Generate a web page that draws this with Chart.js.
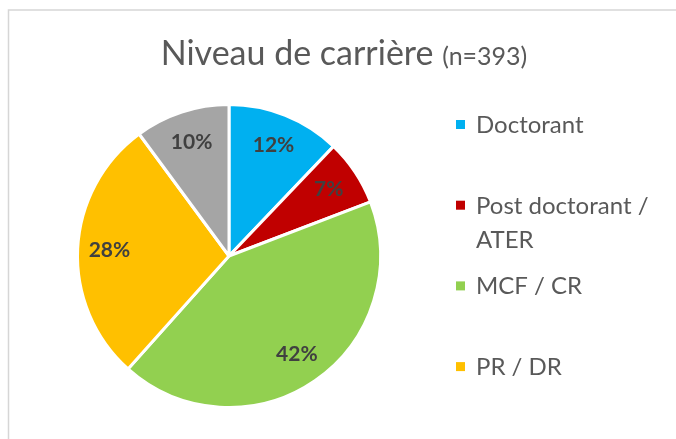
<!DOCTYPE html>
<html>
<head>
<meta charset="utf-8">
<script src="https://cdn.jsdelivr.net/npm/chart.js@4/dist/chart.umd.min.js"></script>
<style>
  html, body { margin: 0; padding: 0; background: #fff; }
</style>
</head>
<body>
<canvas id="careerChart" width="676" height="439"></canvas>
<script>
// chart data
const categories = ['Doctorant', ['Post doctorant /', 'ATER'], 'MCF / CR', 'PR / DR', 'Autre'];
const shares = [12, 7, 42, 28, 10];
const sliceColors = ['#00B0F0', '#C00000', '#92D050', '#FFC000', '#A5A5A5'];
const titleMain = 'Niveau de carrière';
const titleSub = '(n=393)';

const textColor = '#595959';
const fontFamily = 'Lato, "Open Sans", sans-serif';

// frame, title, legend and percentage labels drawn on the canvas
const decorPlugin = {
    id: 'decor',
    beforeDraw(chart) {
        const ctx = chart.ctx;
        ctx.save();
        ctx.fillStyle = '#fff';
        ctx.fillRect(0, 0, chart.width, chart.height);
        ctx.strokeStyle = '#D6D6D6';
        ctx.lineWidth = 1.5;
        ctx.strokeRect(8.5, 10, chart.width + 20, chart.height + 20);
        ctx.restore();
    },
    afterDraw(chart) {
        const ctx = chart.ctx;
        ctx.save();

        // title with smaller "(n=...)"
        ctx.fillStyle = textColor;
        ctx.textBaseline = 'alphabetic';
        ctx.font = '34px ' + fontFamily;
        const mainW = ctx.measureText(titleMain + ' ').width;
        ctx.font = '25px ' + fontFamily;
        const subW = ctx.measureText(titleSub).width;
        const startX = 344 - (mainW + subW) / 2;
        ctx.font = '34px ' + fontFamily;
        ctx.fillText(titleMain + ' ', startX, 65);
        ctx.font = '25px ' + fontFamily;
        ctx.fillText(titleSub, startX + mainW, 65);

        // legend
        ctx.font = '24px ' + fontFamily;
        categories.forEach((label, i) => {
            const base = 133 + i * 80.7;
            ctx.fillStyle = sliceColors[i];
            ctx.fillRect(456, base - 13, 9, 9);
            ctx.fillStyle = textColor;
            const lines = Array.isArray(label) ? label : [label];
            lines.forEach((line, j) => ctx.fillText(line, 476, base + j * 34));
        });

        // percentage labels
        const meta = chart.getDatasetMeta(0);
        ctx.font = 'bold 21px ' + fontFamily;
        ctx.fillStyle = '#404040';
        ctx.textAlign = 'center';
        ctx.textBaseline = 'middle';
        meta.data.forEach((arc, i) => {
            const p = arc.getProps(['x', 'y', 'startAngle', 'endAngle', 'outerRadius'], true);
            const mid = (p.startAngle + p.endAngle) / 2;
            const r = p.outerRadius * 0.79;
            ctx.fillText(shares[i] + '%', p.x + Math.cos(mid) * r, p.y + Math.sin(mid) * r);
        });
        ctx.restore();
    }
};

const careerChart = new Chart(document.getElementById('careerChart'), {
    type: 'pie',
    data: {
        labels: categories,
        datasets: [{
            data: shares,
            backgroundColor: sliceColors,
            borderColor: '#fff',
            borderWidth: 3,
            hoverOffset: 0
        }]
    },
    options: {
        responsive: false,
        animation: false,
        events: [],
        layout: { padding: { left: 76, top: 103, right: 294, bottom: 30 } },
        plugins: {
            legend: { display: false },
            title: { display: false },
            tooltip: { enabled: false }
        }
    },
    plugins: [decorPlugin]
});
</script>
</body>
</html>
